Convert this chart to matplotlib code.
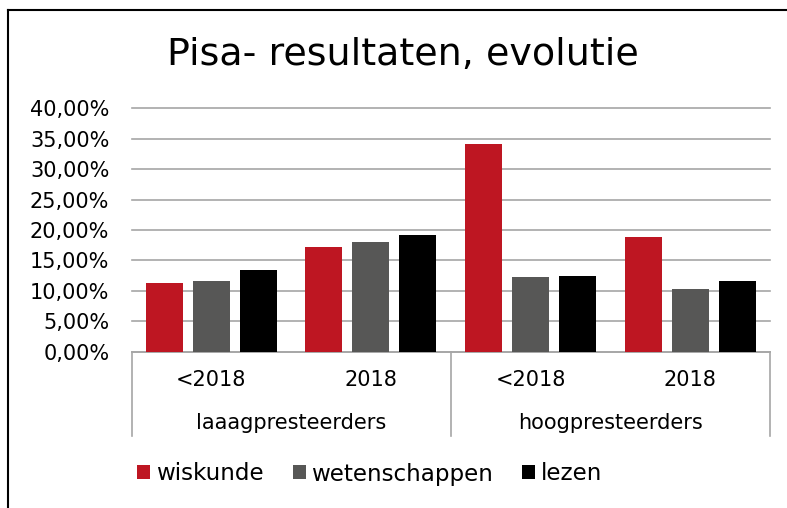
import matplotlib as mpl
mpl.use('Agg')
import numpy as np
import matplotlib.pyplot as plt
from matplotlib.transforms import blended_transform_factory
from matplotlib.patches import Patch

# --- data ---
groups = ['laaagpresteerders', 'hoogpresteerders']
periods = ['<2018', '2018', '<2018', '2018']
series = ['wiskunde', 'wetenschappen', 'lezen']
wiskunde = [11.35, 17.2, 34.2, 18.8]
wetenschappen = [11.6, 18.0, 12.25, 10.35]
lezen = [13.4, 19.2, 12.5, 11.65]
colors = ['#BE1622', '#575756', '#000000']

W, H = 787, 508
fig = plt.figure(figsize=(W/100, H/100), dpi=100)

# plot area in pixels
x0, x1, ytop, ybot = 131.5, 770, 108.3, 351.7
ax = fig.add_axes([x0/W, 1 - ybot/H, (x1 - x0)/W, (ybot - ytop)/H])

x = np.arange(len(periods))
bw = 0.232
step = 0.2945
for i, (vals, c) in enumerate(zip([wiskunde, wetenschappen, lezen], colors)):
    ax.bar(x + (i - 1)*step, np.array(vals)/100., bw, color=c, zorder=3, label=series[i])

ax.set_xlim(-0.5, len(periods) - 0.5)
ax.set_ylim(0, 0.40)
yt = np.arange(0, 0.401, 0.05)
ax.set_yticks(yt)
ax.set_yticklabels([('%.2f%%' % (v*100)).replace('.', ',') for v in yt], fontsize=15)
ax.tick_params(axis='y', length=0, pad=16)
ax.set_xticks([])
ax.grid(axis='y', color='#A6A6A6', lw=1.2, zorder=0)
for gl in ax.get_ygridlines():
    gl.set_clip_on(False)
for s in ['left', 'right', 'top']:
    ax.spines[s].set_visible(False)
ax.spines['bottom'].set_color('#A6A6A6')
ax.spines['bottom'].set_linewidth(1.2)

#--- multi level category axis ---#
tr = blended_transform_factory(ax.transData, ax.transAxes)
ylow = -(436 - ybot)/(ybot - ytop)
for xs in [-0.5, 1.5, 3.5]:
    ax.plot([xs, xs], [0, ylow], color='#A6A6A6', lw=1.2, transform=tr, clip_on=False)
ylab1 = -(380 - ybot)/(ybot - ytop)
ylab2 = -(423 - ybot)/(ybot - ytop)
for xi, p in zip(x, periods):
    ax.text(xi, ylab1, p, transform=tr, ha='center', va='center', fontsize=15)
for gi, g in enumerate(groups):
    ax.text(gi*2 + 0.5, ylab2, g, transform=tr, ha='center', va='center', fontsize=15)

fig.text(403/W, 1 - 55/H, 'Pisa- resultaten, evolutie', ha='center', va='center', fontsize=27.4)

handles = [Patch(facecolor=c) for c in colors]
fig.legend(handles, series, loc='center', bbox_to_anchor=(370/W, 1 - 474/H), ncol=3,
           frameon=False, fontsize=16.6, handlelength=0.55, handleheight=0.55,
           handletextpad=0.26, columnspacing=1.26)

#--- outer chart border (left and top only visible) ---#
fig.add_artist(plt.Line2D([8/W, 8/W], [0, 1 - 10/H], color='k', lw=1.5))
fig.add_artist(plt.Line2D([8/W, 1], [1 - 10/H, 1 - 10/H], color='k', lw=1.5))

fig.savefig('out.png', dpi=100)
